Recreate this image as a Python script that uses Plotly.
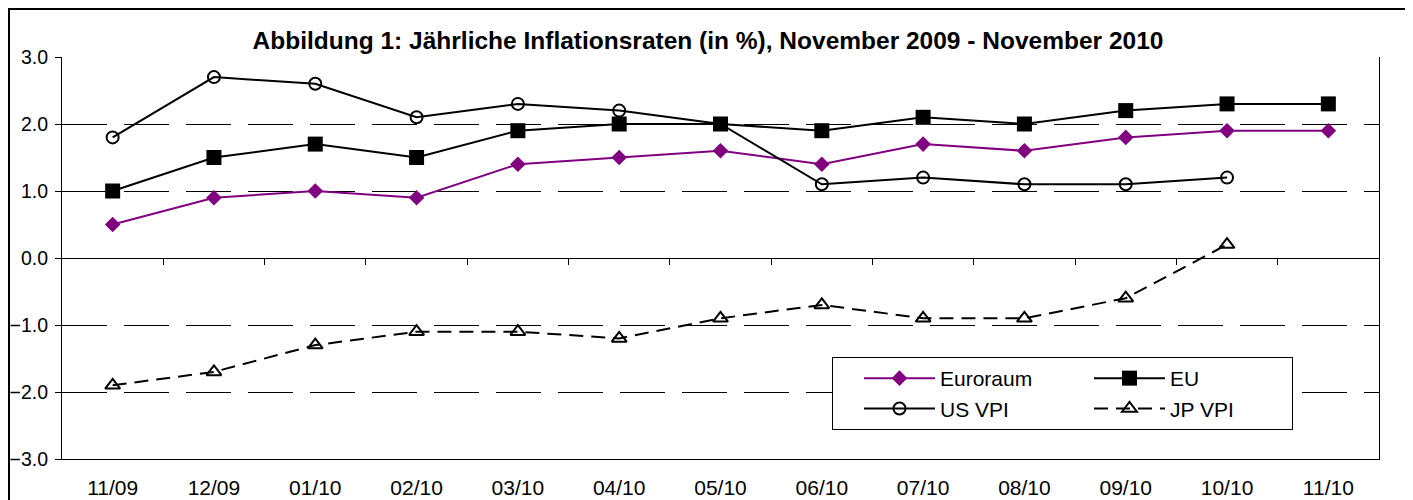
import plotly.graph_objects as go

categories = ["11/09", "12/09", "01/10", "02/10", "03/10", "04/10", "05/10",
              "06/10", "07/10", "08/10", "09/10", "10/10", "11/10"]
euroraum = [0.5, 0.9, 1.0, 0.9, 1.4, 1.5, 1.6, 1.4, 1.7, 1.6, 1.8, 1.9, 1.9]
eu = [1.0, 1.5, 1.7, 1.5, 1.9, 2.0, 2.0, 1.9, 2.1, 2.0, 2.2, 2.3, 2.3]
us_vpi = [1.8, 2.7, 2.6, 2.1, 2.3, 2.2, 2.0, 1.1, 1.2, 1.1, 1.1, 1.2, None]
jp_vpi = [-1.9, -1.7, -1.3, -1.1, -1.1, -1.2, -0.9, -0.7, -0.9, -0.9, -0.6, 0.2, None]
y_ticks = [-3, -2, -1, 0, 1, 2, 3]

FONT = "Liberation Sans, Arial, sans-serif"
idx = list(range(len(categories)))
boundaries = [i + 0.5 for i in idx[:-1]]

# page has an 8px body margin; figure sized to fit the 1413x500 window
W, H = 1405, 492
L, R, T, B = 54, 34, 49, 41
PW, PH = W - L - R, H - T - B

fig = go.Figure()
fig.add_trace(go.Scatter(x=idx, y=euroraum, name="Euroraum", mode="lines+markers",
                         legendgroup="col1",
                         line=dict(color="#800080", width=2),
                         marker=dict(symbol="diamond", size=12, color="#800080")))
fig.add_trace(go.Scatter(x=idx, y=eu, name="EU", mode="lines+markers",
                         legendgroup="col2",
                         line=dict(color="black", width=2),
                         marker=dict(symbol="square", size=15, color="black")))
fig.add_trace(go.Scatter(x=idx, y=us_vpi, name="US VPI", mode="lines+markers",
                         legendgroup="col1",
                         line=dict(color="black", width=2),
                         marker=dict(symbol="circle-open", size=12, color="black",
                                     line=dict(width=2))))
fig.add_trace(go.Scatter(x=idx, y=jp_vpi, name="JP VPI", mode="lines+markers",
                         legendgroup="col2",
                         line=dict(color="black", width=2, dash="14px,8px"),
                         marker=dict(symbol="triangle-up-open", size=13, color="black",
                                     line=dict(width=2))))
# helper trace for the tick axis at y=0
fig.add_trace(go.Scatter(x=idx, y=[None] * len(idx), xaxis="x2", showlegend=False,
                         hoverinfo="skip", mode="lines"))

fig.update_layout(
    width=W, height=H,
    margin=dict(l=L, r=R, t=T, b=B, autoexpand=False),
    paper_bgcolor="white", plot_bgcolor="white",
    font=dict(family=FONT, size=20, color="black"),
    title=dict(text="<b>Abbildung 1: Jährliche Inflationsraten (in %), November 2009 - November 2010</b>",
               x=700 / W, xanchor="center", y=1 - 32 / H, yanchor="middle",
               font=dict(family=FONT, size=24.5, color="black")),
    xaxis=dict(range=[-0.5, len(categories) - 0.5], tickvals=idx, ticktext=categories,
               showgrid=False, zeroline=False, showline=True, linecolor="black",
               linewidth=1, ticks="", ticklabelstandoff=10, automargin=False,
               tickfont=dict(size=21)),
    xaxis2=dict(range=[-0.5, len(categories) - 0.5], overlaying="x", anchor="free",
                position=0.5, tickvals=boundaries, ticks="outside", ticklen=6,
                tickcolor="black", showticklabels=False, showgrid=False,
                zeroline=False, showline=False, automargin=False),
    yaxis=dict(range=[-3, 3], tickvals=y_ticks, tickformat=".1f",
               showgrid=True, gridcolor="black", gridwidth=1, griddash="45px,17px",
               zeroline=True, zerolinecolor="black", zerolinewidth=1,
               showline=True, linecolor="black", linewidth=1, mirror=True,
               ticks="outside", ticklen=6, tickcolor="black", ticklabelstandoff=3,
               automargin=False, tickfont=dict(size=19.5)),
    legend=dict(orientation="h", traceorder="grouped", tracegroupgap=0,
                x=(824 - L) / PW, xanchor="left", y=(451 - 349) / PH, yanchor="top",
                entrywidth=117, entrywidthmode="pixels", indentation=27,
                itemwidth=71, groupclick="toggleitem",
                bgcolor="white", bordercolor="black", borderwidth=1,
                font=dict(family=FONT, size=21, color="black")),
    showlegend=True,
)

# outer frame of the figure
fig.add_shape(type="rect", xref="paper", yref="paper",
              x0=(1 - L) / PW, x1=(1400 - L) / PW,
              y0=-0.25, y1=1 + (T - 1) / PH,
              line=dict(color="black", width=2), fillcolor="rgba(0,0,0,0)",
              layer="below")

fig.write_html("out.html")
